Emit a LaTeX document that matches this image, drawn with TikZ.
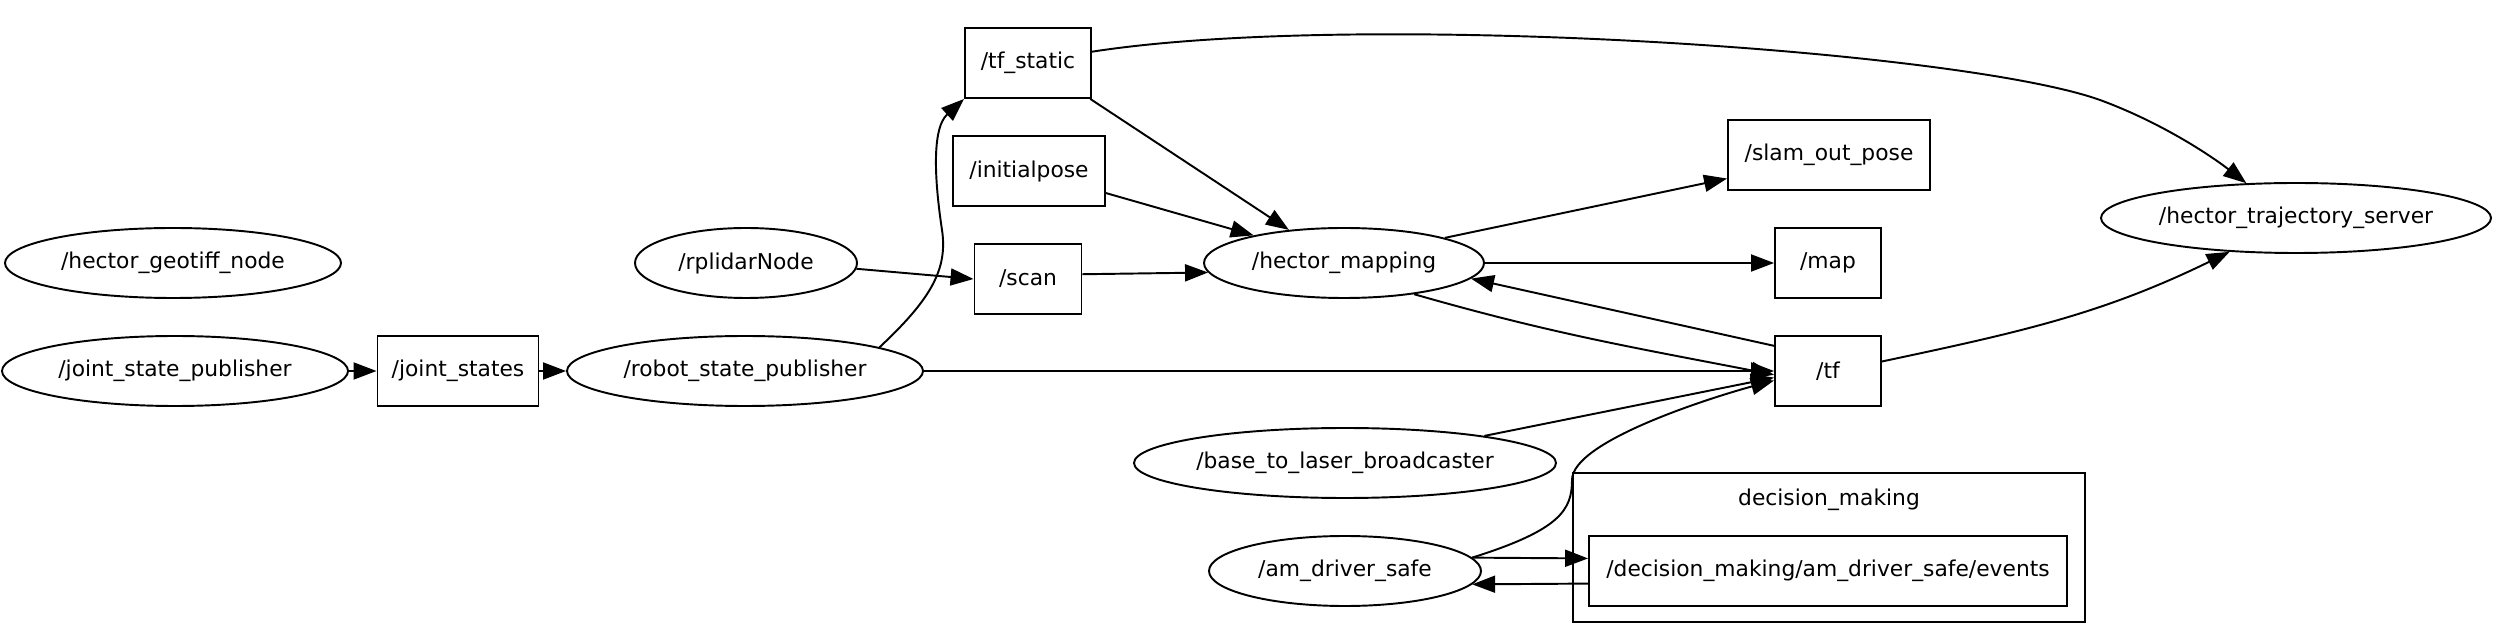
\documentclass[tikz,border=0pt]{standalone}
\usepackage{fontspec}
\setmainfont{DejaVu Sans}
\usetikzlibrary{shapes.geometric,arrows.meta}

\begin{document}
\begin{tikzpicture}[scale=1.0,
  every node/.style={font=\fontsize{6.2}{7.4}\selectfont,line width=0.55pt,inner sep=0pt},
  rosnode/.style={draw,ellipse,minimum height=0.70cm},
  topic/.style={draw,rectangle,minimum height=0.70cm},
  edge/.style={line width=0.55pt,-{Triangle[length=0.23cm,width=0.17cm]}}]
  \useasboundingbox(0,0)rectangle(24.97,-6.24);
  % nodes
  \node[rosnode,minimum width=3.36cm](geotiff)at(1.73,-2.63){/hector\_geotiff\_node};
  \node[rosnode,minimum width=3.46cm](jsp)at(1.75,-3.71){/joint\_state\_publisher};
  \node[topic,minimum width=1.61cm](jstates)at(4.58,-3.71){/joint\_states};
  \node[rosnode,minimum width=3.56cm](rsp)at(7.45,-3.71){/robot\_state\_publisher};
  \node[rosnode,minimum width=2.22cm](rplidar)at(7.46,-2.63){/rplidarNode};
  \node[topic,minimum width=1.26cm](tfstatic)at(10.28,-0.63){/tf\_static};
  \node[topic,minimum width=1.52cm](initpose)at(10.29,-1.71){/initialpose};
  \node[topic,minimum width=1.07cm](scan)at(10.28,-2.79){/scan};
  \node[rosnode,minimum width=2.80cm](hmap)at(13.44,-2.63){/hector\_mapping};
  \node[rosnode,minimum width=4.22cm](btl)at(13.45,-4.63){/base\_to\_laser\_broadcaster};
  \node[rosnode,minimum width=2.72cm](amds)at(13.45,-5.71){/am\_driver\_safe};
  \node[topic,minimum width=2.02cm](slam)at(18.29,-1.55){/slam\_out\_pose};
  \node[topic,minimum width=1.06cm](map)at(18.28,-2.63){/map};
  \node[topic,minimum width=1.06cm](tf)at(18.28,-3.71){/tf};
  \node[draw,minimum width=5.12cm,minimum height=1.49cm](dmbox)at(18.29,-5.475){};
  \node[below=0.16cm](dmlabel)at(dmbox.north){decision\_making};
  \node[topic,minimum width=4.78cm](events)at(18.28,-5.71){/decision\_making/am\_driver\_safe/events};
  \node[rosnode,minimum width=3.90cm](hts)at(22.96,-2.18){/hector\_trajectory\_server};
  % edges
  \draw[edge](jsp.east)--(jstates.west);
  \draw[edge](jstates.east)--(rsp.west);
  \draw[edge](rsp.10)..controls(9.30,-3.0)and(9.48,-2.7)..(9.42,-2.3)
    ..controls(9.36,-1.9)and(9.30,-1.3)..(tfstatic.south west);
  \draw[edge](rsp.east)--(tf.west);
  \draw[edge](rplidar.-3)--(scan.west);
  \draw[edge](scan.5)--(hmap.184);
  \draw[edge](tfstatic.-30)--(hmap.149);
  \draw[edge](initpose.-16)--(hmap.163);
  \draw[edge](tfstatic.10)..controls(13.6,-0.1)and(19.6,-0.5)..(21.0,-1.0)
    ..controls(21.6,-1.22)and(22.1,-1.55)..(hts.145);
  \draw[edge](hmap.14)--(slam.193);
  \draw[edge](hmap.east)--(map.west);
  \draw[edge](hmap.-24)to[out=-16,in=169](tf.184);
  \draw[edge](tf.155)--(hmap.-7);
  \draw[edge](tf.10)to[out=12,in=-154](hts.207);
  \draw[edge](btl.11)--(tf.187);
  \draw[edge](amds.6)..controls(15.6,-5.3)and(15.72,-5.1)..(15.72,-4.8)
    ..controls(15.72,-4.4)and(17.2,-3.95)..(tf.190);
  \draw[edge](amds.6)--(events.177);
  \draw[edge](events.183)--(amds.-6);
\end{tikzpicture}
\end{document}
